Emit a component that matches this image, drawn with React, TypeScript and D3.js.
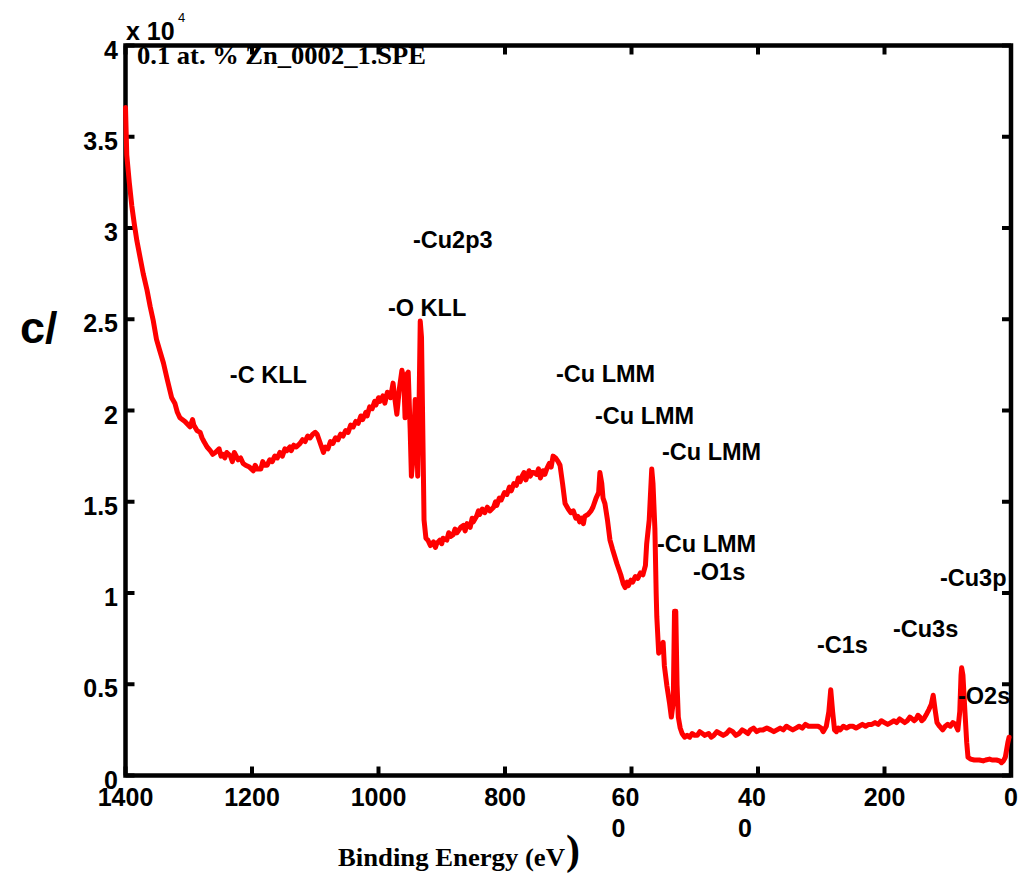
import React from "react";
import * as d3 from "d3";

// Binding energy (eV) and counts (x10^4)
const spectrum: [number, number][] = [
  [1400, 3.66], [1398, 3.40], [1394, 3.25], [1390, 3.12], [1386, 3.02], [1382, 2.93],
  [1377, 2.84], [1372, 2.75], [1366, 2.66], [1361, 2.57], [1356, 2.49], [1351, 2.39],
  [1346, 2.33], [1340, 2.26], [1334, 2.17], [1327, 2.07], [1322, 2.04], [1318, 1.99],
  [1314, 1.96], [1306, 1.94], [1298, 1.91], [1294, 1.95], [1292, 1.92], [1287, 1.89],
  [1282, 1.88], [1279, 1.85], [1276, 1.83], [1271, 1.80], [1266, 1.78], [1262, 1.76],
  [1258, 1.77], [1252, 1.79], [1249, 1.75], [1246, 1.76], [1243, 1.74], [1240, 1.77],
  [1234, 1.75], [1231, 1.72], [1228, 1.77], [1222, 1.73], [1218, 1.74], [1214, 1.71],
  [1210, 1.70], [1204, 1.69], [1198, 1.67], [1195, 1.70], [1192, 1.68], [1186, 1.68],
  [1183, 1.72], [1180, 1.70], [1176, 1.70], [1172, 1.73], [1168, 1.72], [1164, 1.75],
  [1160, 1.74], [1156, 1.77], [1152, 1.75], [1148, 1.79], [1145, 1.78], [1140, 1.80],
  [1138, 1.78], [1134, 1.81], [1130, 1.80], [1124, 1.82], [1120, 1.84], [1116, 1.83],
  [1112, 1.86], [1108, 1.85], [1104, 1.87], [1100, 1.88], [1097, 1.87], [1090, 1.80],
  [1087, 1.77], [1084, 1.80], [1080, 1.79], [1076, 1.83], [1072, 1.82], [1068, 1.85],
  [1064, 1.84], [1060, 1.87], [1056, 1.86], [1052, 1.89], [1048, 1.88], [1044, 1.92],
  [1040, 1.91], [1036, 1.94], [1032, 1.93], [1028, 1.97], [1025, 1.95], [1020, 1.99],
  [1018, 1.97], [1014, 2.02], [1010, 2.01], [1006, 2.05], [1004, 2.03], [1000, 2.07],
  [998, 2.05], [993, 2.08], [990, 2.04], [986, 2.10], [981, 2.07], [977, 2.15],
  [974, 2.06], [971, 1.98], [967, 2.12], [963, 2.22], [960, 2.17], [958, 1.96],
  [955, 2.20], [953, 2.21], [950, 1.90], [948, 1.64], [945, 1.75], [942, 2.06],
  [940, 1.95], [938, 1.64], [936, 2.00], [934, 2.49], [932, 2.40], [930, 1.90],
  [928, 1.40], [925, 1.30], [922, 1.29], [918, 1.26], [913, 1.28], [910, 1.25],
  [908, 1.27], [903, 1.29], [900, 1.27], [898, 1.30], [892, 1.29], [889, 1.33],
  [886, 1.31], [882, 1.32], [879, 1.35], [876, 1.33], [870, 1.36], [866, 1.37],
  [863, 1.34], [860, 1.38], [855, 1.36], [852, 1.41], [850, 1.39], [845, 1.42],
  [842, 1.45], [840, 1.43], [836, 1.46], [832, 1.44], [828, 1.47], [824, 1.45],
  [818, 1.47], [815, 1.50], [813, 1.48], [809, 1.52], [806, 1.51], [801, 1.55],
  [797, 1.54], [793, 1.58], [790, 1.56], [786, 1.60], [782, 1.59], [779, 1.63],
  [776, 1.61], [773, 1.64], [770, 1.66], [767, 1.62], [765, 1.64], [762, 1.67],
  [760, 1.64], [757, 1.66], [754, 1.66], [750, 1.65], [747, 1.68], [744, 1.63],
  [740, 1.67], [737, 1.65], [734, 1.68], [730, 1.71], [727, 1.69], [724, 1.75],
  [720, 1.74], [716, 1.72], [713, 1.70], [709, 1.60], [705, 1.49], [700, 1.46],
  [696, 1.44], [692, 1.45], [688, 1.41], [685, 1.42], [682, 1.39], [679, 1.41],
  [676, 1.38], [674, 1.42], [669, 1.43], [664, 1.45], [661, 1.47], [656, 1.52],
  [652, 1.55], [650, 1.66], [647, 1.60], [645, 1.52], [642, 1.49], [638, 1.40],
  [634, 1.29], [630, 1.24], [623, 1.16], [617, 1.10], [613, 1.05], [610, 1.03],
  [607, 1.06], [605, 1.04], [601, 1.07], [598, 1.06], [594, 1.09], [590, 1.08],
  [586, 1.11], [582, 1.10], [578, 1.15], [576, 1.27], [572, 1.40], [568, 1.68],
  [566, 1.60], [563, 1.35], [561, 1.00], [560, 0.87], [557, 0.67], [553, 0.70],
  [550, 0.73], [548, 0.60], [544, 0.49], [540, 0.40], [537, 0.32], [534, 0.40],
  [532, 0.90], [530, 0.90], [528, 0.50], [526, 0.32], [523, 0.26], [520, 0.23],
  [516, 0.21], [512, 0.22], [508, 0.21], [504, 0.23], [500, 0.22], [496, 0.22],
  [492, 0.24], [488, 0.23], [484, 0.22], [478, 0.23], [474, 0.21], [470, 0.22],
  [465, 0.24], [460, 0.23], [455, 0.22], [450, 0.23], [445, 0.25], [440, 0.24],
  [435, 0.22], [430, 0.23], [425, 0.25], [420, 0.24], [416, 0.23], [412, 0.25],
  [407, 0.26], [402, 0.24], [397, 0.25], [392, 0.25], [386, 0.26], [380, 0.25],
  [375, 0.24], [370, 0.25], [365, 0.26], [360, 0.25], [355, 0.27], [350, 0.26],
  [345, 0.25], [340, 0.26], [335, 0.27], [330, 0.26], [325, 0.28], [320, 0.27],
  [313, 0.27], [305, 0.27], [300, 0.26], [297, 0.24], [292, 0.27], [288, 0.35],
  [285, 0.47], [282, 0.35], [279, 0.25], [276, 0.24], [273, 0.26], [270, 0.25],
  [265, 0.27], [260, 0.26], [255, 0.27], [250, 0.27], [245, 0.26], [240, 0.27],
  [235, 0.28], [230, 0.27], [225, 0.28], [220, 0.28], [215, 0.29], [210, 0.28],
  [205, 0.30], [200, 0.29], [195, 0.28], [190, 0.29], [185, 0.30], [181, 0.29],
  [176, 0.31], [172, 0.30], [168, 0.29], [164, 0.30], [160, 0.32], [156, 0.31],
  [153, 0.30], [150, 0.31], [147, 0.33], [144, 0.32], [141, 0.30], [138, 0.31],
  [133, 0.34], [130, 0.36], [126, 0.39], [123, 0.44], [120, 0.36], [117, 0.29],
  [113, 0.27], [108, 0.25], [104, 0.27], [100, 0.28], [96, 0.27], [92, 0.29],
  [88, 0.28], [84, 0.25], [81, 0.35], [79, 0.55], [78, 0.59], [76, 0.55],
  [73, 0.36], [70, 0.18], [68, 0.10], [64, 0.09], [58, 0.085], [50, 0.085],
  [44, 0.08], [40, 0.085], [34, 0.09], [30, 0.085], [23, 0.085], [18, 0.08],
  [15, 0.07], [12, 0.08], [9, 0.10], [7, 0.14], [5, 0.18], [3, 0.21],
];

const xTicks = [1400, 1200, 1000, 800, 600, 400, 200, 0];
// tick labels as drawn (600 and 400 wrap onto two lines in the reference)
const xTickLabels: string[][] = [["1400"], ["1200"], ["1000"], ["800"], ["60", "0"], ["40", "0"], ["200"], ["0"]];
const yTicks = [0, 0.5, 1, 1.5, 2, 2.5, 3, 3.5, 4];
const yTickLabels = ["0", "0.5", "1", "1.5", "2", "2.5", "3", "3.5", "4"];

// Peak annotations: [label, eV, counts (x10^4)]
const peakLabels: [string, number, number][] = [
  ["-C KLL", 1235, 2.151],
  ["-Cu2p3", 945.5, 2.89],
  ["-O KLL", 985, 2.518],
  ["-Cu LMM", 719.4, 2.156],
  ["-Cu LMM", 657.7, 1.926],
  ["-Cu LMM", 551.8, 1.729],
  ["-Cu LMM", 559.7, 1.225],
  ["-O1s", 502.8, 1.071],
  ["-C1s", 306.7, 0.671],
  ["-Cu3s", 186.6, 0.759],
  ["-Cu3p", 112.3, 1.038],
  ["-O2s", 83.8, 0.392],
];

const title = "0.1 at. % Zn_0002_1.SPE";
const xLabel = "Binding Energy (eV";
const yLabel = "c/";

const W = 1021;
const H = 873;
const L = 125.5, R = 1011, T = 45.5, B = 775.5;
const SANS = "'Liberation Sans', Arial, Helvetica, sans-serif";
const SERIF = "'Liberation Serif', 'Times New Roman', serif";

export default function App() {
  const x = d3.scaleLinear().domain([1400, 0]).range([L, R]);
  const y = d3.scaleLinear().domain([0, 4]).range([B, T]);
  const line = d3
    .line<[number, number]>()
    .x((d) => x(d[0]))
    .y((d) => y(d[1]));
  const tickLen = 9;

  return (
    <div style={{ position: "absolute", left: 0, top: 0 }}>
      <svg width={W} height={H} style={{ display: "block", background: "#fff" }}>
        {/* title, partly covered by top frame */}
        <text x={137} y={64} fontFamily={SERIF} fontWeight="bold" fontSize={26}
          textLength={289} lengthAdjust="spacingAndGlyphs" fill="#000">
          {title}
        </text>
        {/* frame */}
        <rect x={L} y={T} width={R - L} height={B - T} fill="none" stroke="#000" strokeWidth={4.5} />
        {xTicks.map((t) => (
          <g key={"xt" + t}>
            <line x1={x(t)} x2={x(t)} y1={B} y2={B - tickLen} stroke="#000" strokeWidth={4} />
            <line x1={x(t)} x2={x(t)} y1={T} y2={T + tickLen} stroke="#000" strokeWidth={4} />
          </g>
        ))}
        {yTicks.map((t) => (
          <g key={"yt" + t}>
            <line x1={L} x2={L + tickLen} y1={y(t)} y2={y(t)} stroke="#000" strokeWidth={4} />
            <line x1={R} x2={R - tickLen} y1={y(t)} y2={y(t)} stroke="#000" strokeWidth={4} />
          </g>
        ))}
        {/* y tick labels */}
        {yTicks.map((t, i) => (
          <text key={"yl" + t} x={118} y={y(t) + 13} textAnchor="end" fontFamily={SANS}
            fontWeight="bold" fontSize={25} fill="#000">
            {yTickLabels[i]}
          </text>
        ))}
        {/* x tick labels */}
        {xTicks.map((t, i) => {
          const lines = xTickLabels[i];
          if (lines.length === 1) {
            return (
              <text key={"xl" + t} x={x(t)} y={806} textAnchor="middle" fontFamily={SANS}
                fontWeight="bold" fontSize={25} fill="#000">
                {lines[0]}
              </text>
            );
          }
          return (
            <text key={"xl" + t} x={x(t) - 20} y={806} textAnchor="start" fontFamily={SANS}
              fontWeight="bold" fontSize={25} fill="#000">
              {lines.map((s, j) => (
                <tspan key={j} x={x(t) - 20} dy={j === 0 ? 0 : 31}>{s}</tspan>
              ))}
            </text>
          );
        })}
        {/* exponent */}
        <text x={126} y={40} fontFamily={SANS} fontWeight="bold" fontSize={25} fill="#000">x 10</text>
        <text x={178} y={22} fontFamily={SANS} fontSize={13} fill="#000">4</text>
        {/* axis labels */}
        <text x={20} y={343} fontFamily={SANS} fontWeight="bold" fontSize={45} fill="#000">{yLabel}</text>
        <text x={338} y={866} fontFamily={SERIF} fontWeight="bold" fontSize={25}
          textLength={227} lengthAdjust="spacingAndGlyphs" fill="#000">{xLabel}</text>
        <text x={566} y={864} fontFamily={SERIF} fontWeight="bold" fontSize={42} fill="#000">)</text>
        {/* spectrum */}
        <path d={line(spectrum) || ""} fill="none" stroke="#ff0000" strokeWidth={5}
          strokeLinejoin="round" strokeLinecap="round" />
        {/* annotations */}
        {peakLabels.map(([s, ev, c], i) => (
          <text key={"pl" + i} x={x(ev)} y={y(c)} fontFamily={SANS} fontWeight="bold"
            fontSize={23.5} fill="#000">
            {s}
          </text>
        ))}
      </svg>
    </div>
  );
}
